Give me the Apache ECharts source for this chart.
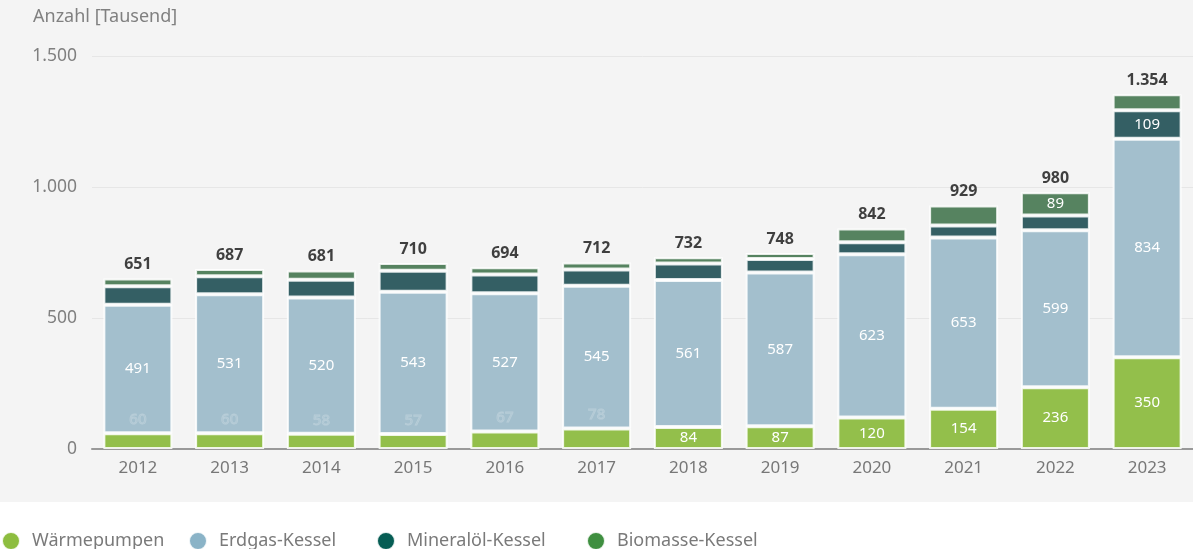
<!DOCTYPE html>
<html>
<head>
<meta charset="utf-8">
<script src="https://cdn.jsdelivr.net/npm/echarts@6/dist/echarts.min.js"></script>
<style>
html,body{margin:0;padding:0;background:#fff;}
#c{width:1193px;height:549px;}
</style>
</head>
<body>
<div id="c"></div>
<script>
const years = ['2012','2013','2014','2015','2016','2017','2018','2019','2020','2021','2022','2023'];
const waermepumpen = [60, 60, 58, 57, 67, 78, 84, 87, 120, 154, 236, 350];
const erdgas = [491, 531, 520, 543, 527, 545, 561, 587, 623, 653, 599, 834];
const mineraloel = [70, 68, 68, 80, 72, 62, 63, 51, 46, 46, 56, 109];
const biomasse = [30, 28, 35, 30, 28, 27, 24, 23, 53, 76, 89, 61];
const yTicks = [0, 500, 1000, 1500];

const MIN_LABEL = 82;
const FONT = 'Noto Sans';
const fmt = v => String(v).replace(/\B(?=(\d{3})+(?!\d))/g, '.');
const totals = years.map((_, i) => waermepumpen[i] + erdgas[i] + mineraloel[i] + biomasse[i]);

const barColors = ['#93bf4b', '#a3bfcd', '#345f64', '#568360'];
const legendColors = ['#8dbd3f', '#8ab3c7', '#065d54', '#3f8f40'];
const names = ['Wärmepumpen', 'Erdgas-Kessel', 'Mineralöl-Kessel', 'Biomasse-Kessel'];
const legendLefts = [1, 188, 376, 586];

const insideLabel = {show: true, position: 'inside', color: '#fff', fontSize: 15, fontFamily: FONT};
const ghostLabel = {show: true, position: 'top', distance: 6, color: 'rgba(255,255,255,0)', textBorderColor: 'rgba(255,255,255,0.22)', textBorderWidth: 1, fontSize: 15, fontFamily: FONT};

function mk(arr, ghost) {
  return arr.map(v => {
    if (v >= MIN_LABEL) return {value: v, label: insideLabel};
    if (ghost) return {value: v, label: ghostLabel};
    return {value: v, label: {show: false}};
  });
}

const seriesArrays = [mk(waermepumpen, true), mk(erdgas, false), mk(mineraloel, false), mk(biomasse, false)];

const series = seriesArrays.map((d, k) => ({
  name: names[k],
  type: 'bar',
  stack: 'total',
  barWidth: 69,
  data: d,
  itemStyle: {color: barColors[k], borderColor: 'rgba(255,255,255,0.85)', borderWidth: 2},
  emphasis: {disabled: true}
}));

series.push({
  name: 'Summe',
  type: 'scatter',
  data: totals,
  symbolSize: 0,
  silent: true,
  label: {show: true, position: 'top', distance: 6, formatter: p => fmt(totals[p.dataIndex]), color: '#111', fontSize: 16, fontWeight: 'bold', fontFamily: FONT},
  z: 10
});

const legends = names.map((n, k) => ({
  data: [{name: n, itemStyle: {color: legendColors[k]}}],
  left: legendLefts[k],
  top: 531,
  padding: 0,
  icon: 'circle',
  itemWidth: 32,
  itemHeight: 18,
  selectedMode: false,
  textStyle: {color: '#7a7a7a', fontSize: 18, fontFamily: FONT}
}));

const chart = echarts.init(document.getElementById('c'), null, {renderer: 'canvas'});
chart.setOption({
  backgroundColor: '#ffffff',
  animation: false,
  textStyle: {fontFamily: FONT},
  graphic: [{type: 'rect', shape: {x: 0, y: 0, width: 1193, height: 502}, style: {fill: '#f4f4f4'}, z: -10, silent: true}],
  title: {text: 'Anzahl [Tausend]', left: 28, top: 3, textStyle: {color: '#808080', fontSize: 18, fontWeight: 'normal', fontFamily: FONT}},
  grid: {left: 92, right: -2, top: 56, bottom: 100},
  xAxis: {
    type: 'category',
    data: years,
    axisTick: {show: false},
    axisLine: {lineStyle: {color: '#999', width: 2}},
    axisLabel: {color: '#777', fontSize: 17, margin: 11, fontFamily: FONT}
  },
  yAxis: {
    type: 'value',
    min: yTicks[0],
    max: yTicks[yTicks.length - 1],
    interval: 500,
    axisLine: {show: false},
    axisTick: {show: false},
    splitLine: {lineStyle: {color: '#e6e6e6', width: 1}},
    axisLabel: {color: '#808080', fontSize: 17.5, margin: 15, formatter: v => fmt(v), fontFamily: FONT}
  },
  legend: legends,
  series: series
});
</script>
</body>
</html>
